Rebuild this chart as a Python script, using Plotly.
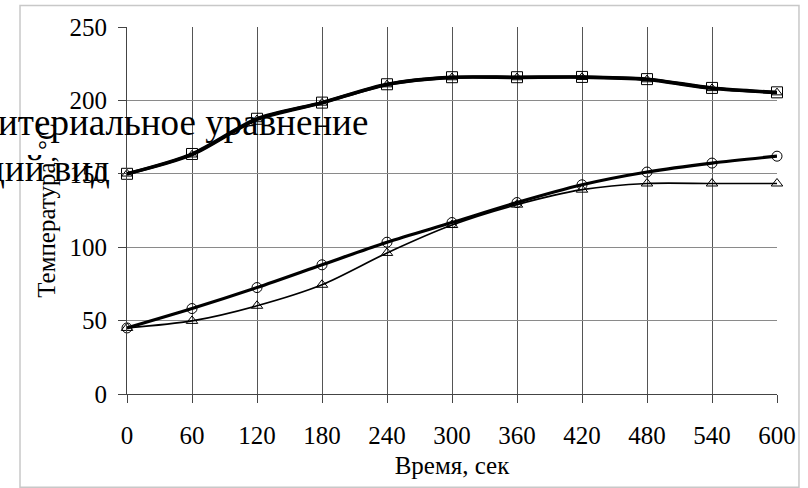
import plotly.graph_objects as go

# Time points, seconds
time_s = [0, 60, 120, 180, 240, 300, 360, 420, 480, 540, 600]

# Upper pair of curves (squares and triangles nearly coincide)
upper_sq = [150, 163.5, 187.5, 198.5, 211, 215.8, 215.8, 216, 214.5, 208.5, 205.5]
upper_tri = [150, 163, 187, 198.3, 210.8, 215.6, 215.6, 215.8, 214.2, 208.2, 205.3]

# Lower pair of curves
lower_circ = [45, 58.2, 72.5, 88, 103.4, 116.8, 130.4, 142.5, 151.2, 157.3, 162]
lower_tri = [45, 49.8, 60.1, 74.4, 96.1, 115.1, 129, 139.2, 143.4, 143.4, 143.4]

x_ticks = [0, 60, 120, 180, 240, 300, 360, 420, 480, 540, 600]
y_ticks = [0, 50, 100, 150, 200, 250]

FONT = "Liberation Serif"
TICK_SIZE = 25

fig = go.Figure()


def add_series(y, symbol, width, size):
    fig.add_trace(go.Scatter(
        x=time_s, y=y, mode="lines+markers",
        line=dict(color="black", width=width, shape="spline", smoothing=0.8),
        marker=dict(symbol=symbol, size=size, color="black",
                    line=dict(color="black", width=1)),
        showlegend=False, cliponaxis=False,
    ))


add_series(lower_tri, "triangle-up-open", 1.7, 10)
add_series(lower_circ, "circle-open", 3.2, 10)
add_series(upper_tri, "triangle-up-open", 3.4, 9)
add_series(upper_sq, "square-open", 3.4, 11)

# Outer light frame around the chart
fig.add_shape(type="rect", xref="paper", yref="paper",
              x0=-0.1646, x1=1.0338, y0=-0.2538, y1=1.0587,
              line=dict(color="#c8c8c8", width=1.5), fillcolor="rgba(0,0,0,0)",
              layer="below")

# Stray page text printed across the chart
fig.add_annotation(text="итериальное уравнение", xref="paper", yref="paper",
                   x=0.3740, y=0.7400, xanchor="right", yanchor="middle",
                   showarrow=False, font=dict(family=FONT, size=37, color="black"))
fig.add_annotation(text="дий вид", xref="paper", yref="paper",
                   x=-0.0230, y=0.6150, xanchor="right", yanchor="middle",
                   showarrow=False, font=dict(family=FONT, size=37, color="black"))

fig.update_layout(
    width=808, height=488,
    margin=dict(l=127, r=31, t=27, b=94),
    paper_bgcolor="white", plot_bgcolor="white",
    font=dict(family=FONT, size=TICK_SIZE, color="black"),
    xaxis=dict(
        range=[0, 600], tickvals=x_ticks, ticktext=[str(v) for v in x_ticks],
        showgrid=True, gridcolor="#555555", gridwidth=1,
        showline=True, linecolor="#444444", linewidth=1,
        ticks="outside", ticklen=8, tickcolor="#444444",
        ticklabelstandoff=11,
        zeroline=False, mirror=False,
        title=dict(text="Время, сек", font=dict(family=FONT, size=TICK_SIZE), standoff=8),
        tickfont=dict(family=FONT, size=TICK_SIZE),
    ),
    yaxis=dict(
        range=[0, 250], tickvals=y_ticks,
        showgrid=True, gridcolor="#8a8a8a", gridwidth=1,
        showline=True, linecolor="#444444", linewidth=1,
        ticks="outside", ticklen=8, tickcolor="#444444",
        ticklabelstandoff=6,
        zeroline=False,
        title=dict(text="Температура, °С", font=dict(family=FONT, size=TICK_SIZE), standoff=6),
        tickfont=dict(family=FONT, size=TICK_SIZE),
    ),
)

fig.write_html("out.html")
